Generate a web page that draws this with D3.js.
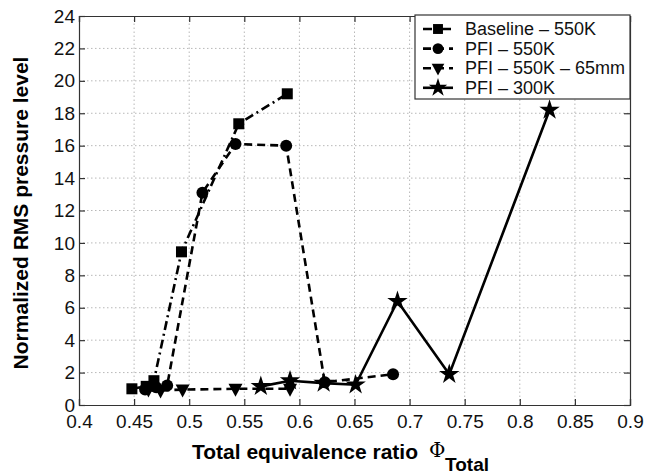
<!DOCTYPE html>
<html>
<head>
<meta charset="utf-8">
<script src="https://cdn.jsdelivr.net/npm/d3@7"></script>
<style>
  body { margin: 0; background: #fff; }
  svg { font-family: "Liberation Sans", Arial, sans-serif; }
</style>
</head>
<body>
<svg id="chart"></svg>
<script>
// data
const baseline = [[0.448, 1.0], [0.461, 1.15], [0.468, 1.5], [0.493, 9.45], [0.545, 17.35], [0.589, 19.2]];
const pfi550 = [[0.460, 0.95], [0.470, 1.1], [0.480, 1.2], [0.512, 13.1], [0.542, 16.1], [0.588, 16.0], [0.623, 1.4], [0.685, 1.9]];
const pfi65mm = [[0.463, 0.95], [0.474, 0.9], [0.494, 0.95], [0.542, 1.0], [0.5915, 1.0]];
const pfi300 = [[0.565, 1.15], [0.5915, 1.5], [0.622, 1.35], [0.651, 1.25], [0.689, 6.4], [0.736, 1.9], [0.827, 18.2]];

const seriesNames = ["Baseline \u2013 550K", "PFI \u2013 550K", "PFI \u2013 550K \u2013 65mm", "PFI \u2013 300K"];
const xTicks = [0.4, 0.45, 0.5, 0.55, 0.6, 0.65, 0.7, 0.75, 0.8, 0.85, 0.9];
const yTicks = [0, 2, 4, 6, 8, 10, 12, 14, 16, 18, 20, 22, 24];

const width = 645;
const height = 474;
const margin = {left: 79, right: 15, top: 16, bottom: 69};

const svg = d3.select("#chart")
    .attr("width", width)
    .attr("height", height);

const xScale = d3.scaleLinear()
    .domain([0.4, 0.9])
    .range([margin.left, width - margin.right]);
const yScale = d3.scaleLinear()
    .domain([0, 24])
    .range([height - margin.bottom, margin.top]);

const x0 = xScale.range()[0], x1 = xScale.range()[1];
const y0 = yScale.range()[0], y1 = yScale.range()[1];

// grid
svg.append("g").selectAll("line")
    .data(xTicks.slice(1, -1))
    .enter().append("line")
    .attr("x1", d => xScale(d)).attr("x2", d => xScale(d))
    .attr("y1", y0).attr("y2", y1)
    .attr("stroke", "#b8b8b8").attr("stroke-width", 1)
    .attr("stroke-dasharray", "1.5,2.5");
svg.append("g").selectAll("line")
    .data(yTicks.slice(1, -1))
    .enter().append("line")
    .attr("y1", d => yScale(d)).attr("y2", d => yScale(d))
    .attr("x1", x0).attr("x2", x1)
    .attr("stroke", "#b8b8b8").attr("stroke-width", 1)
    .attr("stroke-dasharray", "1.5,2.5");

// axes (ticks pointing inward)
const xAxis = d3.axisBottom(xScale).tickValues(xTicks).tickSize(-6).tickPadding(10)
    .tickFormat(d => d3.format("")(+d.toFixed(2)));
const yAxis = d3.axisLeft(yScale).tickValues(yTicks).tickSize(-6).tickPadding(4);

svg.append("g")
    .attr("transform", `translate(0,${y0})`)
    .call(xAxis)
    .call(g => g.selectAll("text").attr("font-size", 19).attr("fill", "#111")
        .attr("font-family", "Liberation Sans, Arial, sans-serif"));
svg.append("g")
    .attr("transform", `translate(${x0},0)`)
    .call(yAxis)
    .call(g => g.selectAll("text").attr("font-size", 19).attr("fill", "#111")
        .attr("font-family", "Liberation Sans, Arial, sans-serif"));
svg.append("g")
    .attr("transform", `translate(0,${y1})`)
    .call(d3.axisTop(xScale).tickValues(xTicks).tickSize(-6).tickFormat(""));
svg.append("g")
    .attr("transform", `translate(${x1},0)`)
    .call(d3.axisRight(yScale).tickValues(yTicks).tickSize(-6).tickFormat(""));
svg.selectAll(".domain, .tick line").attr("stroke", "#333").attr("stroke-width", 1.2);

// series
const line = d3.line().x(d => xScale(d[0])).y(d => yScale(d[1]));
const series = [
    {data: baseline, dash: "9,4,2,4", marker: "square"},
    {data: pfi550, dash: "8,5", marker: "circle"},
    {data: pfi65mm, dash: "8,5", marker: "triangle"},
    {data: pfi300, dash: null, marker: "star"}
];

const drawMarker = (g, type, x, y, k = 1) => {
    if (type === "square") {
        g.append("rect").attr("x", x - 5.5 * k).attr("y", y - 5.5 * k)
            .attr("width", 11 * k).attr("height", 11 * k).attr("fill", "#000");
    } else if (type === "circle") {
        g.append("circle").attr("cx", x).attr("cy", y).attr("r", 6 * k).attr("fill", "#000");
    } else if (type === "triangle") {
        g.append("path")
            .attr("d", `M${x - 7 * k},${y - 5 * k}L${x + 7 * k},${y - 5 * k}L${x},${y + 8 * k}Z`)
            .attr("fill", "#000");
    } else {
        g.append("path")
            .attr("d", d3.symbol(d3.symbolStar, 130 * k * k)())
            .attr("transform", `translate(${x},${y})`)
            .attr("fill", "#000");
    }
};

series.forEach(s => {
    svg.append("path")
        .datum(s.data)
        .attr("d", line)
        .attr("fill", "none")
        .attr("stroke", "#000")
        .attr("stroke-width", 2.6)
        .attr("stroke-dasharray", s.dash);
    const g = svg.append("g");
    s.data.forEach(d => drawMarker(g, s.marker, xScale(d[0]), yScale(d[1])));
});

// legend
const legend = svg.append("g");
legend.append("rect")
    .attr("x", 415).attr("y", 15).attr("width", 215).attr("height", 84)
    .attr("fill", "#fff").attr("stroke", "#333").attr("stroke-width", 1.2);
seriesNames.forEach((name, i) => {
    const ly = 29 + i * 19.6;
    legend.append("line")
        .attr("x1", 423).attr("x2", 453).attr("y1", ly).attr("y2", ly)
        .attr("stroke", "#000").attr("stroke-width", 2.6)
        .attr("stroke-dasharray", series[i].dash);
    drawMarker(legend, series[i].marker, 438, ly, 0.9);
    legend.append("text")
        .attr("x", 465).attr("y", ly + 6)
        .attr("font-size", 18).attr("fill", "#111")
        .text(name);
});

// axis titles
svg.append("text")
    .attr("x", 192).attr("y", 459)
    .attr("font-size", 21).attr("font-weight", "bold")
    .text("Total equivalence ratio");
svg.append("text")
    .attr("x", 429).attr("y", 457)
    .attr("font-size", 20)
    .attr("font-family", "DejaVu Serif, serif")
    .text("\u03A6");
svg.append("text")
    .attr("x", 445).attr("y", 471)
    .attr("font-size", 19).attr("font-weight", "bold")
    .text("Total");
svg.append("text")
    .attr("transform", `translate(28,213) rotate(-90)`)
    .attr("text-anchor", "middle")
    .attr("font-size", 21).attr("font-weight", "bold")
    .text("Normalized RMS pressure level");
</script>
</body>
</html>
